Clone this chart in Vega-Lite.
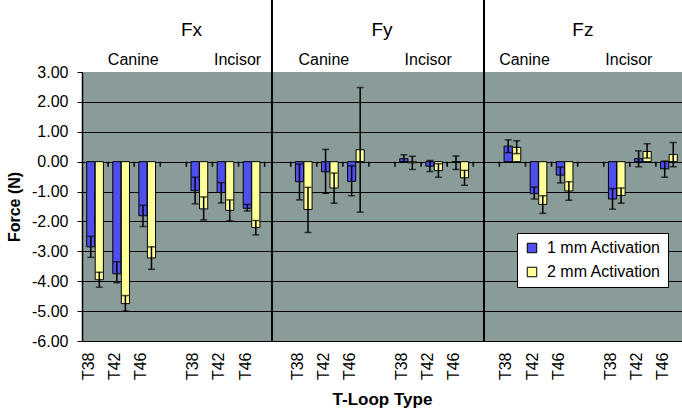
{
  "$schema": "https://vega.github.io/schema/vega-lite/v6.json",
  "width": 600,
  "height": 269,
  "autosize": {"type": "none"},
  "padding": {"left": 82, "top": 72, "right": 0, "bottom": 69},
  "background": "white",
  "config": {
    "view": {"fill": "#8A9C99", "stroke": null},
    "font": "Liberation Sans",
    "text": {"font": "Liberation Sans"},
    "axisY": {"tickCount": 10, "labelOverlap": false}
  },
  "datasets": {
    "bars": [
      {"cat": "Fx Canine T38", "series": "1 mm Activation", "v": -2.85, "lo": -3.2, "hi": -2.5},
      {"cat": "Fx Canine T38", "series": "2 mm Activation", "v": -3.95, "lo": -4.2, "hi": -3.7},
      {"cat": "Fx Canine T42", "series": "1 mm Activation", "v": -3.75, "lo": -4.05, "hi": -3.35},
      {"cat": "Fx Canine T42", "series": "2 mm Activation", "v": -4.75, "lo": -5.0, "hi": -4.48},
      {"cat": "Fx Canine T46", "series": "1 mm Activation", "v": -1.81, "lo": -2.17, "hi": -1.46},
      {"cat": "Fx Canine T46", "series": "2 mm Activation", "v": -3.22, "lo": -3.6, "hi": -2.85},
      {"cat": "Fx Incisor T38", "series": "1 mm Activation", "v": -0.97, "lo": -1.41, "hi": -0.52},
      {"cat": "Fx Incisor T38", "series": "2 mm Activation", "v": -1.58, "lo": -1.95, "hi": -1.18},
      {"cat": "Fx Incisor T42", "series": "1 mm Activation", "v": -1.03, "lo": -1.38, "hi": -0.7},
      {"cat": "Fx Incisor T42", "series": "2 mm Activation", "v": -1.63, "lo": -1.98, "hi": -1.28},
      {"cat": "Fx Incisor T46", "series": "1 mm Activation", "v": -1.56, "lo": -1.65, "hi": -1.43},
      {"cat": "Fx Incisor T46", "series": "2 mm Activation", "v": -2.2, "lo": -2.45, "hi": -1.97},
      {"cat": "Fy Canine T38", "series": "1 mm Activation", "v": -0.67, "lo": -1.28, "hi": -0.08},
      {"cat": "Fy Canine T38", "series": "2 mm Activation", "v": -1.6, "lo": -2.37, "hi": -0.86},
      {"cat": "Fy Canine T42", "series": "1 mm Activation", "v": -0.34, "lo": -1.06, "hi": 0.41},
      {"cat": "Fy Canine T42", "series": "2 mm Activation", "v": -0.88, "lo": -1.39, "hi": -0.38},
      {"cat": "Fy Canine T46", "series": "1 mm Activation", "v": -0.66, "lo": -1.14, "hi": -0.14},
      {"cat": "Fy Canine T46", "series": "2 mm Activation", "v": 0.4, "lo": -1.69, "hi": 2.48},
      {"cat": "Fy Incisor T38", "series": "1 mm Activation", "v": 0.1, "lo": -0.02, "hi": 0.23},
      {"cat": "Fy Incisor T38", "series": "2 mm Activation", "v": -0.04, "lo": -0.26, "hi": 0.18},
      {"cat": "Fy Incisor T42", "series": "1 mm Activation", "v": -0.15, "lo": -0.33, "hi": 0.04},
      {"cat": "Fy Incisor T42", "series": "2 mm Activation", "v": -0.3, "lo": -0.52, "hi": -0.07},
      {"cat": "Fy Incisor T46", "series": "1 mm Activation", "v": -0.03, "lo": -0.26, "hi": 0.19},
      {"cat": "Fy Incisor T46", "series": "2 mm Activation", "v": -0.54, "lo": -0.79, "hi": -0.29},
      {"cat": "Fz Canine T38", "series": "1 mm Activation", "v": 0.52, "lo": 0.3, "hi": 0.73},
      {"cat": "Fz Canine T38", "series": "2 mm Activation", "v": 0.48, "lo": 0.27, "hi": 0.7},
      {"cat": "Fz Canine T42", "series": "1 mm Activation", "v": -1.07, "lo": -1.25, "hi": -0.85},
      {"cat": "Fz Canine T42", "series": "2 mm Activation", "v": -1.43, "lo": -1.73, "hi": -1.14},
      {"cat": "Fz Canine T46", "series": "1 mm Activation", "v": -0.45, "lo": -0.71, "hi": -0.18},
      {"cat": "Fz Canine T46", "series": "2 mm Activation", "v": -0.98, "lo": -1.29, "hi": -0.67},
      {"cat": "Fz Incisor T38", "series": "1 mm Activation", "v": -1.25, "lo": -1.59, "hi": -0.9},
      {"cat": "Fz Incisor T38", "series": "2 mm Activation", "v": -1.13, "lo": -1.39, "hi": -0.88},
      {"cat": "Fz Incisor T42", "series": "1 mm Activation", "v": 0.1, "lo": -0.17, "hi": 0.36},
      {"cat": "Fz Incisor T42", "series": "2 mm Activation", "v": 0.34, "lo": 0.12, "hi": 0.6},
      {"cat": "Fz Incisor T46", "series": "1 mm Activation", "v": -0.24, "lo": -0.52, "hi": 0.02},
      {"cat": "Fz Incisor T46", "series": "2 mm Activation", "v": 0.24, "lo": -0.17, "hi": 0.64}
    ],
    "cats": [
      {"cat": "Fx Canine T42"}, {"cat": "Fx Canine T46"}, {"cat": "gap1"},
      {"cat": "Fx Incisor T38"}, {"cat": "Fx Incisor T42"}, {"cat": "Fx Incisor T46"}, {"cat": "gap2"},
      {"cat": "Fy Canine T38"}, {"cat": "Fy Canine T42"}, {"cat": "Fy Canine T46"}, {"cat": "gap3"},
      {"cat": "Fy Incisor T38"}, {"cat": "Fy Incisor T42"}, {"cat": "Fy Incisor T46"}, {"cat": "gap4"},
      {"cat": "Fz Canine T38"}, {"cat": "Fz Canine T42"}, {"cat": "Fz Canine T46"}, {"cat": "gap5"},
      {"cat": "Fz Incisor T38"}, {"cat": "Fz Incisor T42"}, {"cat": "Fz Incisor T46"}
    ]
  },
  "layer": [
    {
      "data": {"name": "bars"},
      "mark": {"type": "bar", "stroke": "black", "strokeWidth": 1},
      "encoding": {
        "x": {
          "field": "cat", "type": "nominal", "title": "T-Loop Type",
          "scale": {
            "domain": ["Fx Canine T38", "Fx Canine T42", "Fx Canine T46", "gap1", "Fx Incisor T38", "Fx Incisor T42", "Fx Incisor T46", "gap2", "Fy Canine T38", "Fy Canine T42", "Fy Canine T46", "gap3", "Fy Incisor T38", "Fy Incisor T42", "Fy Incisor T46", "gap4", "Fz Canine T38", "Fz Canine T42", "Fz Canine T46", "gap5", "Fz Incisor T38", "Fz Incisor T42", "Fz Incisor T46"],
            "paddingInner": 0.36, "paddingOuter": 0.18
          },
          "axis": {
            "labelAngle": 270,
            "labelExpr": "indexof(datum.label, 'gap') === 0 ? '' : slice(datum.label, -3)",
            "ticks": false, "domain": true, "domainColor": "black", "domainWidth": 1,
            "grid": false,
            "labelPadding": 11, "labelOffset": -6, "labelFontSize": 16, "labelColor": "black", "labelFont": "Liberation Sans",
            "titleFontSize": 17, "titleFontWeight": "bold", "titleColor": "black", "titlePadding": 12, "titleFont": "Liberation Sans"
          }
        },
        "xOffset": {"field": "series", "type": "nominal", "scale": {"paddingInner": 0.04, "paddingOuter": 0}},
        "y": {
          "field": "v", "type": "quantitative", "title": "Force (N)",
          "scale": {"domain": [-6, 3], "nice": false, "zero": false},
          "axis": {
            "values": [-6, -5, -4, -3, -2, -1, 0, 1, 2, 3],
            "labelOverlap": false,
            "labelExpr": "replace(format(datum.value, '.2f'), '\u2212', '-')",
            "labelFontSize": 16, "labelColor": "black", "labelFont": "Liberation Sans", "labelPadding": 9,
            "tickSize": 5, "tickColor": "black", "tickWidth": 1,
            "domainColor": "black", "domainWidth": 1.5,
            "grid": true, "gridColor": "black", "gridWidth": 1,
            "gridOpacity": {"condition": {"test": "datum.value === 3", "value": 0}, "value": 1},
            "titleFontSize": 16, "titleFontWeight": "bold", "titleColor": "black", "titlePadding": 9, "titleFont": "Liberation Sans"
          }
        },
        "color": {
          "field": "series", "type": "nominal",
          "scale": {"domain": ["1 mm Activation", "2 mm Activation"], "range": ["#4F4FEF", "#FFFF99"]},
          "legend": {
            "title": null, "orient": "none", "legendX": 435, "legendY": 161,
            "fillColor": "white", "strokeColor": "black", "padding": 7,
            "labelFontSize": 16, "labelColor": "black", "labelFont": "Liberation Sans", "labelOffset": 7,
            "symbolType": "square", "symbolSize": 90, "symbolStrokeColor": "black", "symbolStrokeWidth": 1, "symbolOpacity": 1,
            "rowPadding": 8
          }
        }
      }
    },
    {
      "data": {"name": "bars"},
      "mark": {"type": "rule", "color": "black", "strokeWidth": 1.5},
      "encoding": {
        "x": {"field": "cat", "type": "nominal"},
        "xOffset": {"field": "series", "type": "nominal"},
        "y": {"field": "lo", "type": "quantitative"},
        "y2": {"field": "hi"}
      }
    },
    {
      "data": {"name": "bars"},
      "mark": {"type": "tick", "orient": "horizontal", "color": "black", "size": 7, "thickness": 1.5},
      "encoding": {
        "x": {"field": "cat", "type": "nominal"},
        "xOffset": {"field": "series", "type": "nominal"},
        "y": {"field": "lo", "type": "quantitative"}
      }
    },
    {
      "data": {"name": "bars"},
      "mark": {"type": "tick", "orient": "horizontal", "color": "black", "size": 7, "thickness": 1.5},
      "encoding": {
        "x": {"field": "cat", "type": "nominal"},
        "xOffset": {"field": "series", "type": "nominal"},
        "y": {"field": "hi", "type": "quantitative"}
      }
    },
    {
      "data": {"name": "cats"},
      "mark": {"type": "rule", "color": "black", "strokeWidth": 1.5},
      "encoding": {
        "x": {"field": "cat", "type": "nominal", "bandPosition": -0.281},
        "y": {"datum": 0},
        "y2": {"datum": -0.17}
      }
    },
    {
      "data": {"values": [{"cat": "gap2"}]},
      "mark": {"type": "rule", "color": "black", "strokeWidth": 2},
      "encoding": {
        "x": {"field": "cat", "type": "nominal", "bandPosition": 0.16},
        "y": {"datum": 5.45},
        "y2": {"datum": -6}
      }
    },
    {
      "data": {"values": [{"cat": "gap4"}]},
      "mark": {"type": "rule", "color": "black", "strokeWidth": 2},
      "encoding": {
        "x": {"field": "cat", "type": "nominal", "bandPosition": 0.36},
        "y": {"datum": 5.45},
        "y2": {"datum": -6}
      }
    },
    {
      "data": {"values": [{"cat": "Fx Incisor T38", "t": "Fx"}, {"cat": "gap5", "t": "Fz"}]},
      "mark": {"type": "text", "fontSize": 19, "color": "black", "baseline": "middle", "align": "center"},
      "encoding": {
        "x": {"field": "cat", "type": "nominal", "bandPosition": 0.03},
        "y": {"datum": 4.4},
        "text": {"field": "t"}
      }
    },
    {
      "data": {"values": [{"cat": "gap3", "t": "Fy"}]},
      "mark": {"type": "text", "fontSize": 19, "color": "black", "baseline": "middle", "align": "center"},
      "encoding": {
        "x": {"field": "cat", "type": "nominal", "bandPosition": 0.5},
        "y": {"datum": 4.4},
        "text": {"field": "t"}
      }
    },
    {
      "data": {"values": [{"cat": "Fx Canine T46", "t": "Canine"}, {"cat": "Fx Incisor T46", "t": "Incisor"}, {"cat": "Fz Canine T42", "t": "Canine"}, {"cat": "Fz Incisor T42", "t": "Incisor"}]},
      "mark": {"type": "text", "fontSize": 16, "color": "black", "baseline": "middle", "align": "center"},
      "encoding": {
        "x": {"field": "cat", "type": "nominal", "bandPosition": -0.34},
        "y": {"datum": 3.4},
        "text": {"field": "t"}
      }
    },
    {
      "data": {"values": [{"cat": "Fy Canine T42", "t": "Canine"}, {"cat": "Fy Incisor T42", "t": "Incisor"}]},
      "mark": {"type": "text", "fontSize": 16, "color": "black", "baseline": "middle", "align": "center"},
      "encoding": {
        "x": {"field": "cat", "type": "nominal", "bandPosition": 0.14},
        "y": {"datum": 3.4},
        "text": {"field": "t"}
      }
    }
  ]
}
